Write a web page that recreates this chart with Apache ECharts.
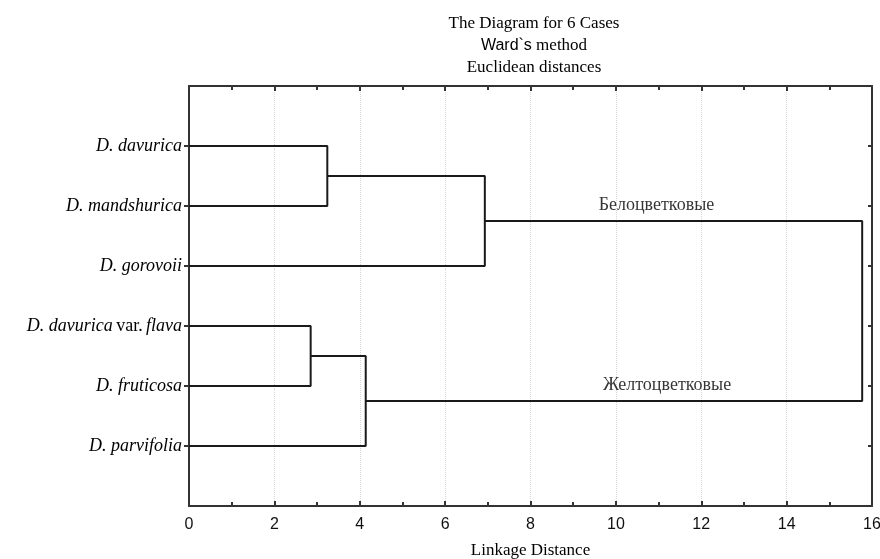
<!DOCTYPE html>
<html>
<head>
<meta charset="utf-8">
<script src="https://cdn.jsdelivr.net/npm/echarts@6/dist/echarts.min.js"></script>
<style>html,body{margin:0;padding:0;background:#fff;}#c{width:880px;height:559px;}</style>
</head>
<body>
<div id="c"></div>
<script>
// ---- data ----
const leaves = ['D. davurica', 'D. mandshurica', 'D. gorovoii', 'D. davurica var. flava', 'D. fruticosa', 'D. parvifolia'];
// merges (node ids: leaves 0..5, new clusters 6..10 in order)
const mergeA = [0, 6, 3, 8, 7];
const mergeB = [1, 2, 4, 5, 9];
const mergeHeight = [3.24, 6.93, 2.85, 4.14, 15.77];
const xTicks = [0, 2, 4, 6, 8, 10, 12, 14, 16];
const clusterNames = ['Белоцветковые', 'Желтоцветковые'];
const clusterNameX = [10.95, 11.2];
const clusterNode = [7, 9];
const titleLines = ['The Diagram for 6 Cases', 'Ward`s', 'method', 'Euclidean distances'];
const xAxisName = 'Linkage Distance';

// ---- build dendrogram geometry ----
const nodeX = leaves.map(() => 0);
const nodeY = leaves.map((_, i) => i + 1);
const linkSeries = [];
mergeA.forEach((a, k) => {
  const b = mergeB[k], h = mergeHeight[k];
  linkSeries.push({
    type: 'line', xAxisIndex: 0, yAxisIndex: 0, symbol: 'none', silent: true,
    lineStyle: { color: '#1a1a1a', width: 2 },
    data: [[nodeX[a], nodeY[a]], [h, nodeY[a]], [h, nodeY[b]], [nodeX[b], nodeY[b]]],
    animation: false
  });
  nodeX.push(h);
  nodeY.push((nodeY[a] + nodeY[b]) / 2);
});
const leafPositions = leaves.map((_, i) => i + 1);

const serif = 'Liberation Serif, Times New Roman, serif';
const sans = 'Liberation Sans, Arial, sans-serif';

const labelSeries = {
  type: 'scatter', symbolSize: 1, silent: true, animation: false,
  itemStyle: { color: 'rgba(255,255,255,0)' },
  data: clusterNames.map((n, i) => ({ value: [clusterNameX[i], nodeY[clusterNode[i]]], name: n })),
  label: { show: true, position: 'top', distance: 6, formatter: p => p.name,
    fontFamily: serif, fontSize: 18, color: '#000', textBorderWidth: 0 }
};

const axisLineStyle = { show: true, onZero: false, lineStyle: { color: '#333', width: 2 } };

const option = {
  backgroundColor: '#fff',
  animation: false,
  title: {
    left: 529, top: 8, textAlign: 'center',
    text: '{a|' + titleLines[0] + '}\n{b|' + titleLines[1] + '}{a| ' + titleLines[2] + '}\n{a|' + titleLines[3] + '}',
    textStyle: {
      fontWeight: 'normal',
      rich: {
        a: { fontFamily: serif, fontSize: 17, fontWeight: 'normal', color: '#000', lineHeight: 22 },
        b: { fontFamily: sans, fontSize: 16, fontWeight: 'normal', color: '#000', lineHeight: 22 }
      }
    }
  },
  grid: { left: 189, right: 8, top: 86, bottom: 53, show: true, backgroundColor: '#fff', borderWidth: 0,
    containLabel: false, outerBoundsMode: 'none' },
  xAxis: [{
    type: 'value', min: 0, max: 16, interval: 2, position: 'bottom',
    axisLine: axisLineStyle,
    axisTick: { show: true, inside: true, length: 5, lineStyle: { color: '#333', width: 2 } },
    minorTick: { show: true, splitNumber: 2, length: 4, lineStyle: { color: '#333', width: 2 } },
    splitLine: { show: true, lineStyle: { color: '#d6d6d6', type: 'dotted', width: 1 } },
    axisLabel: { margin: 11, fontFamily: 'Liberation Sans Narrow, ' + sans, fontSize: 16, color: '#111',
      formatter: v => xTicks.indexOf(v) >= 0 ? String(v) : '' },
    name: xAxisName, nameLocation: 'middle', nameGap: 36,
    nameTextStyle: { fontFamily: serif, fontSize: 17, color: '#000' }
  }, {
    type: 'value', min: 0, max: 16, interval: 2, position: 'top',
    axisLine: axisLineStyle,
    axisTick: { show: true, inside: true, length: 5, lineStyle: { color: '#333', width: 2 } },
    minorTick: { show: true, splitNumber: 2, length: 4, lineStyle: { color: '#333', width: 2 } },
    splitLine: { show: false }, axisLabel: { show: false }
  }],
  yAxis: [{
    type: 'value', min: 0, max: 7, interval: 1, inverse: true, position: 'left',
    axisLine: axisLineStyle,
    axisTick: { show: true, inside: false, length: 5, customValues: leafPositions, lineStyle: { color: '#333', width: 2 } },
    splitLine: { show: false },
    axisLabel: {
      margin: 7,
      customValues: leafPositions,
      formatter: v => {
        const n = leaves[v - 1];
        if (!n) return '';
        if (n.indexOf(' var. ') >= 0) {
          const parts = n.split(' var. ');
          return '{i|' + parts[0] + '} {n|var.} {i|' + parts[1] + '}';
        }
        return '{i|' + n + '}';
      },
      rich: {
        i: { fontFamily: serif, fontStyle: 'italic', fontSize: 18, color: '#000' },
        n: { fontFamily: serif, fontSize: 18, color: '#000' }
      }
    }
  }, {
    type: 'value', min: 0, max: 7, interval: 1, inverse: true, position: 'right',
    axisLine: axisLineStyle,
    axisTick: { show: true, inside: true, length: 4, customValues: leafPositions, lineStyle: { color: '#333', width: 2 } },
    splitLine: { show: false }, axisLabel: { show: false }
  }],
  series: linkSeries.concat([labelSeries])
};

const chart = echarts.init(document.getElementById('c'), null, { renderer: 'canvas' });
chart.setOption(option);
</script>
</body>
</html>
